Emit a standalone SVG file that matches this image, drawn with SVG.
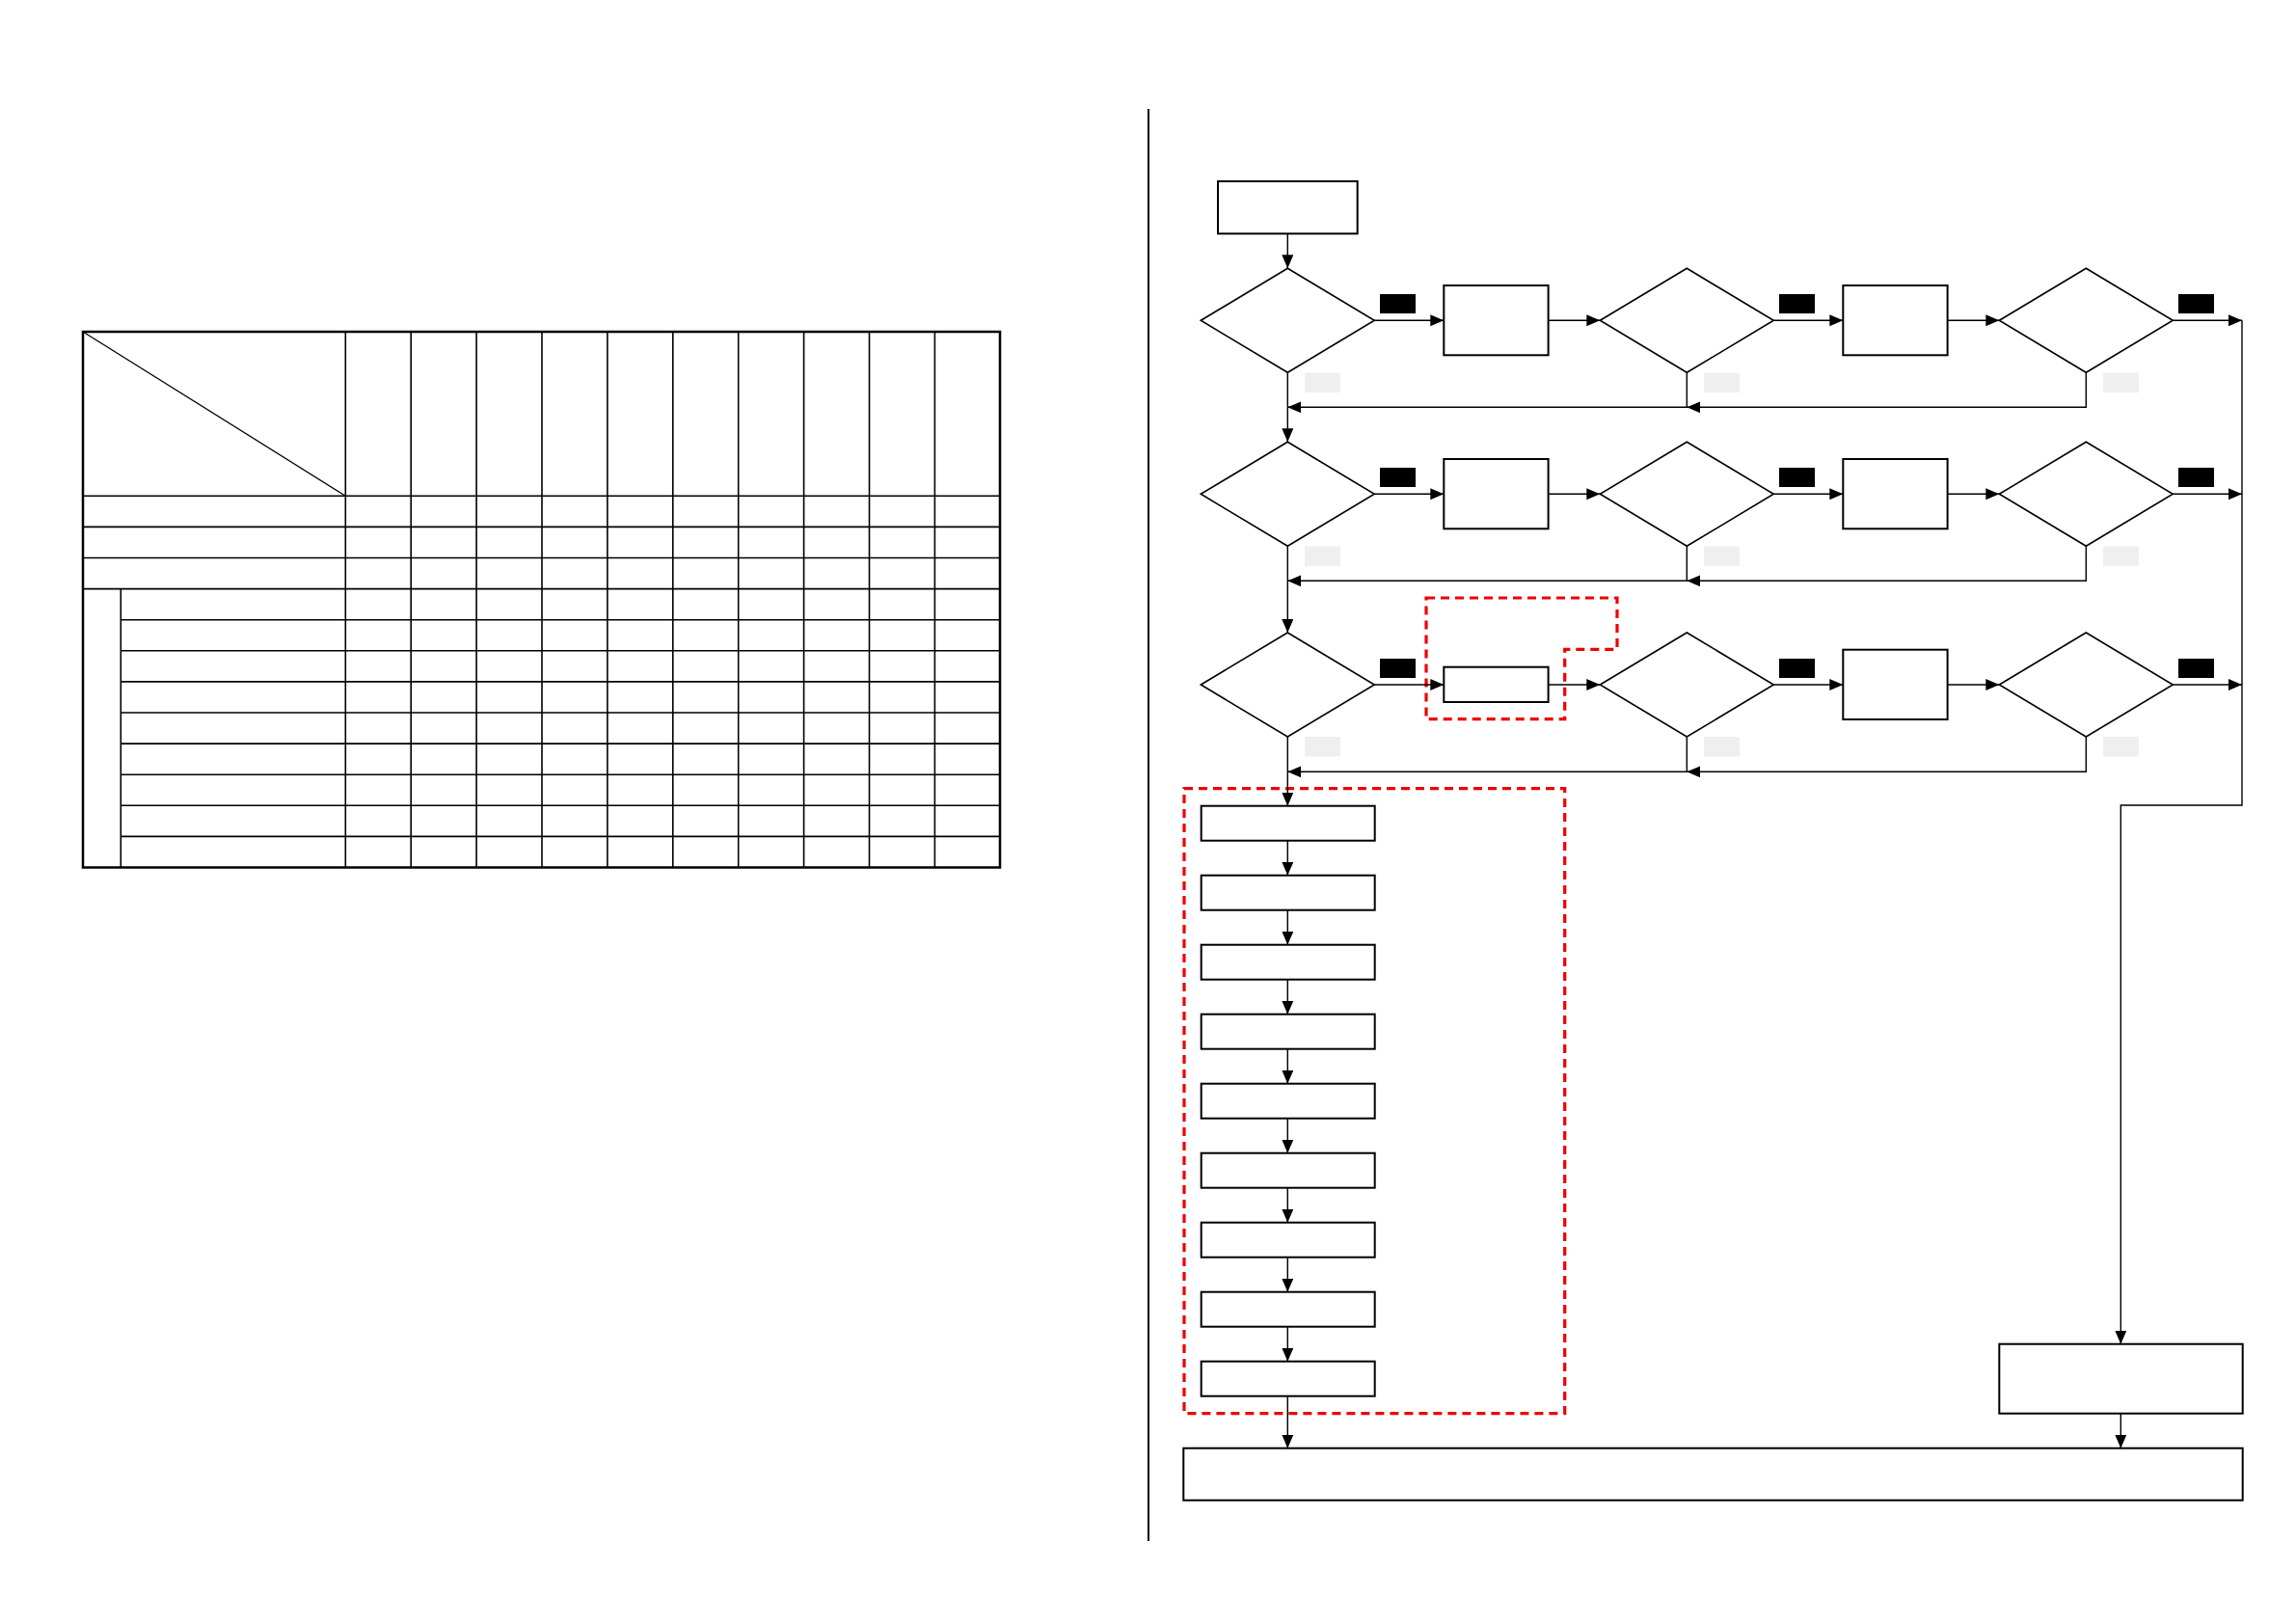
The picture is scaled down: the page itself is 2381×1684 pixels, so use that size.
<svg xmlns="http://www.w3.org/2000/svg" width="2381" height="1684" viewBox="0 0 2381 1684">
<style>
.node{fill:#fff;stroke:#000;stroke-width:2}
.dia{fill:#fff;stroke:#000;stroke-width:1.6}
.conn{fill:none;stroke:#000;stroke-width:1.4}
.lblk{fill:#000}
.lgry{fill:#efefef}
.grid{stroke:#000;stroke-width:1.6;fill:none}
.outer{stroke:#000;stroke-width:2.5;fill:none}
.red{fill:none;stroke:#ee0000;stroke-width:3.2;stroke-dasharray:9 6}
</style>
<defs>
<marker id="ah" markerUnits="userSpaceOnUse" markerWidth="15" markerHeight="13" refX="14" refY="6" orient="auto">
<path d="M0,0 L14,6 L0,12 z" fill="#000"/>
</marker>
</defs>
<rect width="2381" height="1684" fill="#fff"/>

<!-- table -->
<g id="table">
<rect class="outer" x="86" y="344" width="951" height="555.5"/>
<line class="grid" x1="86" y1="344" x2="358.3" y2="514.3" style="stroke-width:1.3"/>
<g class="grid">
<line x1="358.3" y1="344" x2="358.3" y2="899.5"/>
<line x1="426.2" y1="344" x2="426.2" y2="899.5"/>
<line x1="494.1" y1="344" x2="494.1" y2="899.5"/>
<line x1="562" y1="344" x2="562" y2="899.5"/>
<line x1="629.9" y1="344" x2="629.9" y2="899.5"/>
<line x1="697.8" y1="344" x2="697.8" y2="899.5"/>
<line x1="765.7" y1="344" x2="765.7" y2="899.5"/>
<line x1="833.6" y1="344" x2="833.6" y2="899.5"/>
<line x1="901.5" y1="344" x2="901.5" y2="899.5"/>
<line x1="969.4" y1="344" x2="969.4" y2="899.5"/>
<line x1="86" y1="514.3" x2="1037" y2="514.3"/>
<line x1="86" y1="546.4" x2="1037" y2="546.4"/>
<line x1="86" y1="578.5" x2="1037" y2="578.5"/>
<line x1="86" y1="610.6" x2="1037" y2="610.6"/>
<line x1="125.3" y1="642.7" x2="1037" y2="642.7"/>
<line x1="125.3" y1="674.8" x2="1037" y2="674.8"/>
<line x1="125.3" y1="706.9" x2="1037" y2="706.9"/>
<line x1="125.3" y1="739" x2="1037" y2="739"/>
<line x1="125.3" y1="771.1" x2="1037" y2="771.1"/>
<line x1="125.3" y1="803.2" x2="1037" y2="803.2"/>
<line x1="125.3" y1="835.3" x2="1037" y2="835.3"/>
<line x1="125.3" y1="867.4" x2="1037" y2="867.4"/>
<line x1="125.3" y1="610.6" x2="125.3" y2="899.5"/>
</g>
</g>

<!-- divider -->
<line x1="1191" y1="113" x2="1191" y2="1598" stroke="#000" stroke-width="2"/>

<!-- red dashed groups -->
<g id="highlight-small">
<path class="red" d="M1479,620 H1677 V673.3 H1622.7 V745.7 H1479 Z"/>
</g>
<g id="highlight-large">
<rect class="red" x="1228" y="817.7" width="394.7" height="648"/>
</g>

<!-- connectors -->
<g id="connectors" class="conn" marker-end="url(#ah)">
<path d="M1335.3,242.3 V278.3"/>
<!-- row 1 -->
<path d="M1425.3,332.3 H1497.3"/>
<path d="M1605.7,332.3 H1659.3"/>
<path d="M1839.3,332.3 H1911.3"/>
<path d="M2019.7,332.3 H2073.3"/>
<path d="M2253.3,332.3 H2325"/>
<path d="M2163.3,386.3 V422.3 H1749.3"/>
<path d="M1749.3,386.3 V422.3 H1335.3"/>
<path d="M1335.3,386.3 V458.3"/>
<!-- row 2 -->
<path d="M1425.3,512.3 H1497.3"/>
<path d="M1605.7,512.3 H1659.3"/>
<path d="M1839.3,512.3 H1911.3"/>
<path d="M2019.7,512.3 H2073.3"/>
<path d="M2253.3,512.3 H2325"/>
<path d="M2163.3,566.3 V602.3 H1749.3"/>
<path d="M1749.3,566.3 V602.3 H1335.3"/>
<path d="M1335.3,566.3 V656"/>
<!-- row 3 -->
<path d="M1425.3,710 H1497.3"/>
<path d="M1605.7,710 H1659.3"/>
<path d="M1839.3,710 H1911.3"/>
<path d="M2019.7,710 H2073.3"/>
<path d="M2253.3,710 H2325"/>
<path d="M2163.3,764 V800.3 H1749.3"/>
<path d="M1749.3,764 V800.3 H1335.3"/>
<path d="M1335.3,764 V835.7"/>
<!-- stack -->
<path d="M1335.3,871.7 V907.7"/>
<path d="M1335.3,943.7 V979.7"/>
<path d="M1335.3,1015.7 V1051.7"/>
<path d="M1335.3,1087.7 V1123.7"/>
<path d="M1335.3,1159.7 V1195.7"/>
<path d="M1335.3,1231.7 V1267.7"/>
<path d="M1335.3,1303.7 V1339.7"/>
<path d="M1335.3,1375.7 V1411.7"/>
<path d="M1335.3,1447.7 V1501.7"/>
<!-- right side -->
<path d="M2325,332.3 V835 H2199.3 V1393.7"/>
<path d="M2199.3,1465.7 V1501.7"/>
</g>

<!-- nodes -->
<g id="start"><rect class="node" x="1263" y="188" width="144.7" height="54.3"/></g>

<g id="d11"><polygon class="dia" points="1245.3,332.3 1335.3,278.3 1425.3,332.3 1335.3,386.3"/></g>
<g id="b11"><rect class="node" x="1497.3" y="296" width="108.3" height="72.3"/></g>
<g id="d12"><polygon class="dia" points="1659.3,332.3 1749.3,278.3 1839.3,332.3 1749.3,386.3"/></g>
<g id="b12"><rect class="node" x="1911.3" y="296" width="108.3" height="72.3"/></g>
<g id="d13"><polygon class="dia" points="2073.3,332.3 2163.3,278.3 2253.3,332.3 2163.3,386.3"/></g>

<g id="d21"><polygon class="dia" points="1245.3,512.3 1335.3,458.3 1425.3,512.3 1335.3,566.3"/></g>
<g id="b21"><rect class="node" x="1497.3" y="476" width="108.3" height="72.3"/></g>
<g id="d22"><polygon class="dia" points="1659.3,512.3 1749.3,458.3 1839.3,512.3 1749.3,566.3"/></g>
<g id="b22"><rect class="node" x="1911.3" y="476" width="108.3" height="72.3"/></g>
<g id="d23"><polygon class="dia" points="2073.3,512.3 2163.3,458.3 2253.3,512.3 2163.3,566.3"/></g>

<g id="d31"><polygon class="dia" points="1245.3,710 1335.3,656 1425.3,710 1335.3,764"/></g>
<g id="b31"><rect class="node" x="1497.3" y="691.7" width="108.3" height="36.3"/></g>
<g id="d32"><polygon class="dia" points="1659.3,710 1749.3,656 1839.3,710 1749.3,764"/></g>
<g id="b32"><rect class="node" x="1911.3" y="673.7" width="108.3" height="72.3"/></g>
<g id="d33"><polygon class="dia" points="2073.3,710 2163.3,656 2253.3,710 2163.3,764"/></g>

<!-- edge label blocks -->
<g id="labels">
<rect class="lblk" x="1431" y="305" width="37" height="20"/>
<rect class="lblk" x="1845" y="305" width="37" height="20"/>
<rect class="lblk" x="2259" y="305" width="37" height="20"/>
<rect class="lblk" x="1431" y="485" width="37" height="20"/>
<rect class="lblk" x="1845" y="485" width="37" height="20"/>
<rect class="lblk" x="2259" y="485" width="37" height="20"/>
<rect class="lblk" x="1431" y="683" width="37" height="20"/>
<rect class="lblk" x="1845" y="683" width="37" height="20"/>
<rect class="lblk" x="2259" y="683" width="37" height="20"/>
<rect class="lgry" x="1353" y="386.5" width="37" height="20.5"/>
<rect class="lgry" x="1767" y="386.5" width="37" height="20.5"/>
<rect class="lgry" x="2181" y="386.5" width="37" height="20.5"/>
<rect class="lgry" x="1353" y="566.5" width="37" height="20.5"/>
<rect class="lgry" x="1767" y="566.5" width="37" height="20.5"/>
<rect class="lgry" x="2181" y="566.5" width="37" height="20.5"/>
<rect class="lgry" x="1353" y="764" width="37" height="20.5"/>
<rect class="lgry" x="1767" y="764" width="37" height="20.5"/>
<rect class="lgry" x="2181" y="764" width="37" height="20.5"/>
</g>

<g id="s1"><rect class="node" x="1245.7" y="835.7" width="180" height="36"/></g>
<g id="s2"><rect class="node" x="1245.7" y="907.7" width="180" height="36"/></g>
<g id="s3"><rect class="node" x="1245.7" y="979.7" width="180" height="36"/></g>
<g id="s4"><rect class="node" x="1245.7" y="1051.7" width="180" height="36"/></g>
<g id="s5"><rect class="node" x="1245.7" y="1123.7" width="180" height="36"/></g>
<g id="s6"><rect class="node" x="1245.7" y="1195.7" width="180" height="36"/></g>
<g id="s7"><rect class="node" x="1245.7" y="1267.7" width="180" height="36"/></g>
<g id="s8"><rect class="node" x="1245.7" y="1339.7" width="180" height="36"/></g>
<g id="s9"><rect class="node" x="1245.7" y="1411.7" width="180" height="36"/></g>

<g id="rightbox"><rect class="node" x="2073.3" y="1393.7" width="252.4" height="72"/></g>
<g id="end"><rect class="node" x="1227.3" y="1501.7" width="1098.4" height="54"/></g>
</svg>
